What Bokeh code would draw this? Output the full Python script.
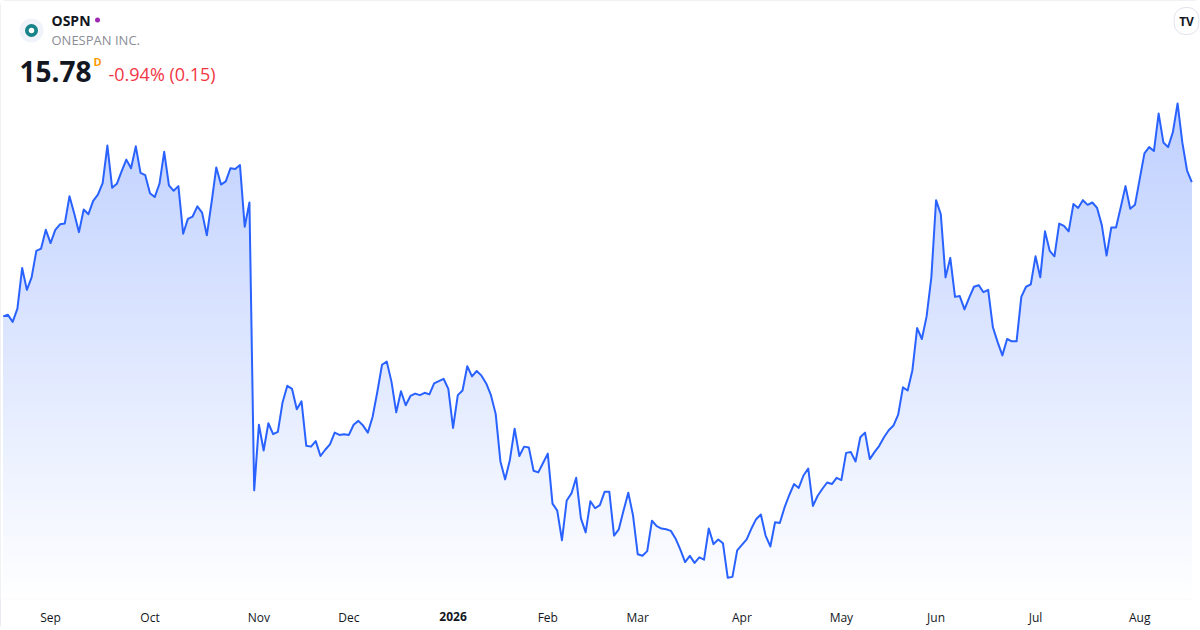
import numpy as np
from bokeh.plotting import figure
from bokeh.models import Range1d, FixedTicker, Label, LinearAxis
from bokeh.embed import file_html
from bokeh.resources import INLINE

# ---- data (daily closes, one trading year) ----
prices = [
    14.06, 14.08, 13.99, 14.16, 14.68, 14.40, 14.56, 14.90, 14.93, 15.17,
    15.00, 15.17, 15.24, 15.25, 15.60, 15.38, 15.14, 15.43, 15.37, 15.54,
    15.62, 15.77, 16.25, 15.71, 15.76, 15.92, 16.07, 15.96, 16.24, 15.90,
    15.87, 15.64, 15.59, 15.76, 16.17, 15.74, 15.67, 15.73, 15.12, 15.31,
    15.34, 15.47, 15.39, 15.10, 15.52, 15.97, 15.75, 15.79, 15.96, 15.95,
    16.00, 15.21, 15.52, 11.83, 12.67, 12.34, 12.69, 12.55, 12.58, 12.96,
    13.17, 13.13, 12.87, 12.97, 12.40, 12.39, 12.46, 12.27, 12.35, 12.42,
    12.57, 12.54, 12.55, 12.54, 12.67, 12.72, 12.66, 12.57, 12.77, 13.09,
    13.44, 13.48, 13.22, 12.83, 13.10, 12.92, 13.04, 13.07, 13.05, 13.08,
    13.06, 13.20, 13.23, 13.26, 13.13, 12.63, 13.05, 13.11, 13.42, 13.29,
    13.36, 13.30, 13.20, 13.05, 12.81, 12.20, 11.97, 12.22, 12.62, 12.27,
    12.39, 12.38, 12.08, 12.06, 12.18, 12.30, 11.66, 11.57, 11.19, 11.70,
    11.79, 11.99, 11.47, 11.29, 11.69, 11.60, 11.64, 11.81, 11.81, 11.25,
    11.33, 11.57, 11.80, 11.51, 11.01, 10.99, 11.05, 11.44, 11.37, 11.34,
    11.33, 11.31, 11.21, 11.07, 10.91, 10.99, 10.90, 10.97, 10.94, 11.34,
    11.14, 11.20, 11.15, 10.71, 10.72, 11.06, 11.13, 11.20, 11.34, 11.46,
    11.52, 11.25, 11.11, 11.42, 11.41, 11.61, 11.77, 11.91, 11.86, 12.02,
    12.11, 11.63, 11.76, 11.85, 11.93, 11.91, 11.99, 11.96, 12.31, 12.32,
    12.20, 12.51, 12.57, 12.23, 12.32, 12.40, 12.51, 12.60, 12.66, 12.80,
    13.15, 13.11, 13.37, 13.91, 13.77, 14.06, 14.56, 15.55, 15.37, 14.56,
    14.81, 14.31, 14.32, 14.15, 14.30, 14.44, 14.46, 14.37, 14.40, 13.92,
    13.73, 13.56, 13.77, 13.74, 13.74, 14.31, 14.44, 14.47, 14.83, 14.56,
    15.15, 14.90, 14.83, 15.25, 15.22, 15.15, 15.50, 15.45, 15.55, 15.49,
    15.52, 15.45, 15.23, 14.84, 15.20, 15.20, 15.46, 15.73, 15.44, 15.49,
    15.82, 16.15, 16.23, 16.18, 16.66, 16.29, 16.23, 16.42, 16.79, 16.29,
    15.93, 15.78,
]
# first trading day of each month (index into prices) and its label
month_ticks = [10, 31, 54, 73, 95, 115, 134, 156, 177, 197, 218, 240]
month_labels = ["Sep", "Oct", "Nov", "Dec", "2026", "Feb", "Mar", "Apr",
                "May", "Jun", "Jul", "Aug"]
year_label = "2026"
ticker_symbol = "OSPN"
company = "ONESPAN INC."
last_price = "15.78"
change_text = "-0.94% (0.15)"
interval = "D"

# ---- layout ----
W, H = 1200, 630
FB = 31
FH = H - FB
XS, XE = -0.57, 252.84
YS, YE = 10.43, 18.11
FONT = "Open Sans"
STANDOFF = 9

def sx(px):
    return XS + px / W * (XE - XS)

def sy(py):
    return YE - py / FH * (YE - YS)

x = np.arange(len(prices))
y = np.array(prices)

p = figure(width=W, height=H, output_backend="svg", toolbar_location=None,
           x_range=Range1d(XS, XE), y_range=Range1d(YS, YE),
           y_axis_location=None,
           min_border_left=0, min_border_right=0, min_border_top=0,
           min_border_bottom=FB,
           background_fill_color="white", border_fill_color="white",
           outline_line_color=None)
p.grid.visible = False
p.styles = {"outline": "1px solid #E0E3EB", "outline-offset": "-1px",
            "border-radius": "6px"}

# ---- gradient area fill (bands drawn top colour first) ----
top = y.max() + 0.05
nb = 70
edges = np.linspace(top, YS, nb + 1)[:-1]
for b in edges:
    t = (b - YS) / (top - YS)
    a = 0.30 * t
    r = int(round(255 - (255 - 41) * a))
    g = int(round(255 - (255 - 98) * a))
    col = "#%02x%02x%02x" % (r, g, 255)
    p.varea(x=x, y1=np.full_like(y, YS), y2=np.minimum(y, b),
            fill_color=col, fill_alpha=1.0)

p.line(x, y, line_color="#2962FF", line_width=2, line_join="round")

# ---- x axis (months) ----
def style_axis(ax):
    ax.axis_line_color = None
    ax.major_tick_line_color = None
    ax.minor_tick_line_color = None
    ax.major_tick_out = 0
    ax.major_tick_in = 0
    ax.major_label_text_font = FONT
    ax.major_label_text_font_size = "12px"
    ax.major_label_text_color = "#131722"

ax = p.xaxis[0]
ax.ticker = FixedTicker(ticks=month_ticks)
ax.major_label_overrides = {t: ("" if l == year_label else l)
                            for t, l in zip(month_ticks, month_labels)}
ax.major_label_standoff = STANDOFF
style_axis(ax)

# second axis carrying the bold year label, pulled up onto the same row
year_ticks = [t for t, l in zip(month_ticks, month_labels) if l == year_label]
ax2 = LinearAxis(ticker=FixedTicker(ticks=year_ticks),
                 major_label_overrides={t: year_label for t in year_ticks})
style_axis(ax2)
ax2.major_label_text_font_style = "bold"
ax2.major_label_standoff = -17
p.add_layout(ax2, "below")

# ---- header ----
p.scatter([sx(31)], [sy(30)], size=24, color="#F0F3FA", line_color=None)
p.scatter([sx(31)], [sy(30)], size=13, color="#168489", line_color=None)
p.scatter([sx(31)], [sy(30)], size=5.5, color="white", line_color=None)
p.scatter([sx(97)], [sy(19.5)], size=5, color="#9C27B0", line_color=None)

p.add_layout(Label(x=sx(51), y=sy(19.5), text=ticker_symbol, text_font=FONT,
                   text_font_size="14px", text_font_style="bold",
                   text_color="#131722", text_baseline="middle"))
p.add_layout(Label(x=sx(51), y=sy(39.5), text=company, text_font=FONT,
                   text_font_size="13px", text_color="#8A8D96",
                   text_baseline="middle"))
p.add_layout(Label(x=sx(19), y=sy(70.5), text=last_price, text_font=FONT,
                   text_font_size="28px", text_font_style="bold",
                   text_color="#131722", text_baseline="alphabetic"))
p.add_layout(Label(x=sx(93), y=sy(53), text=interval, text_font=FONT,
                   text_font_size="11px", text_font_style="bold",
                   text_color="#FF9800", text_baseline="top"))
p.add_layout(Label(x=sx(108), y=sy(73.5), text=change_text, text_font=FONT,
                   text_font_size="18px", text_color="#F23645",
                   text_baseline="alphabetic"))
p.add_layout(Label(x=sx(1186), y=sy(20.5), text="TV", text_font=FONT,
                   text_font_size="12px", text_font_style="bold",
                   text_color="#131722", text_align="center",
                   text_baseline="middle",
                   background_fill_color="white", border_line_color="#E0E3EB",
                   padding=5, border_radius=11))

open("out.html", "w").write(file_html(p, INLINE))
